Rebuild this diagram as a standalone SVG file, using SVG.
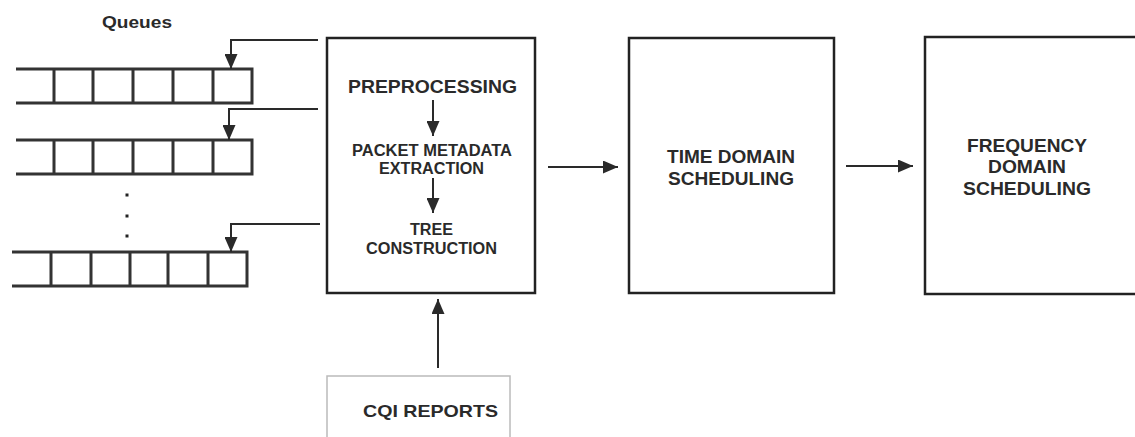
<svg xmlns="http://www.w3.org/2000/svg" width="1135" height="437" viewBox="0 0 1135 437">
<defs>
<style>
.box{fill:#fff;stroke:#222;stroke-width:2.5}
.cqi{fill:#fff;stroke:#bbb;stroke-width:1.5}
.q{fill:none;stroke:#333;stroke-width:3}
.c{fill:none;stroke:#2a2a2a;stroke-width:2}
.t{font-family:"Liberation Sans",Arial,sans-serif;font-weight:bold;fill:#2a2a2a;text-anchor:middle}
</style>
<marker id="ah" markerUnits="userSpaceOnUse" markerWidth="15" markerHeight="13" refX="15" refY="6.5" orient="auto">
<path d="M0,0 L15,6.5 L0,13 z" fill="#2a2a2a"/>
</marker>
</defs>
<rect width="1135" height="437" fill="#fff"/>

<g id="queues">
<text class="t" x="137" y="28" font-size="16.5" textLength="70" lengthAdjust="spacingAndGlyphs">Queues</text>
<g id="queue1">
<path class="q" d="M16,69 H252 M16,103 H252 M54,69 V103 M93,69 V103 M133,69 V103 M173,69 V103 M213,69 V103 M252,67.5 V104.5"/>
</g>
<g id="queue2">
<path class="q" d="M16,140 H252 M16,174 H252 M54,140 V174 M93,140 V174 M133,140 V174 M173,140 V174 M213,140 V174 M252,138.5 V175.5"/>
</g>
<g id="dots" fill="#222">
<rect x="125.5" y="193.5" width="3" height="3"/>
<rect x="125.5" y="214.5" width="3" height="3"/>
<rect x="125.5" y="234.5" width="3" height="3"/>
</g>
<g id="queue3">
<path class="q" d="M12,252 H247 M12,286 H247 M51,252 V286 M91,252 V286 M130,252 V286 M168,252 V286 M208,252 V286 M247,250.5 V287.5"/>
</g>
</g>

<g id="preprocessing">
<rect class="box" x="327" y="38" width="208" height="255"/>
<text class="t" x="432.5" y="93" font-size="18.5" textLength="169" lengthAdjust="spacingAndGlyphs">PREPROCESSING</text>
<text class="t" x="432" y="156" font-size="16" textLength="160" lengthAdjust="spacingAndGlyphs">PACKET METADATA</text>
<text class="t" x="431.5" y="174" font-size="16" textLength="105" lengthAdjust="spacingAndGlyphs">EXTRACTION</text>
<text class="t" x="431.5" y="235" font-size="16" textLength="43" lengthAdjust="spacingAndGlyphs">TREE</text>
<text class="t" x="431.5" y="254" font-size="16" textLength="131" lengthAdjust="spacingAndGlyphs">CONSTRUCTION</text>
</g>

<g id="time-domain">
<rect class="box" x="629" y="38" width="205" height="255"/>
<text class="t" x="731" y="163" font-size="19" textLength="128" lengthAdjust="spacingAndGlyphs">TIME DOMAIN</text>
<text class="t" x="731" y="185" font-size="19" textLength="126" lengthAdjust="spacingAndGlyphs">SCHEDULING</text>
</g>

<g id="frequency-domain">
<rect class="box" x="925" y="37" width="220" height="257"/>
<text class="t" x="1027" y="152" font-size="19" textLength="120" lengthAdjust="spacingAndGlyphs">FREQUENCY</text>
<text class="t" x="1027" y="173" font-size="19" textLength="78" lengthAdjust="spacingAndGlyphs">DOMAIN</text>
<text class="t" x="1027" y="195" font-size="19" textLength="128" lengthAdjust="spacingAndGlyphs">SCHEDULING</text>
</g>

<g id="cqi-reports">
<rect class="cqi" x="327" y="376" width="183" height="80"/>
<text class="t" x="430.5" y="417" font-size="17" textLength="135" lengthAdjust="spacingAndGlyphs">CQI REPORTS</text>
</g>

<g id="connectors">
<path class="c" d="M318,40 H231 V69" marker-end="url(#ah)"/>
<path class="c" d="M318,109 H229 V140" marker-end="url(#ah)"/>
<path class="c" d="M320,224 H231 V252" marker-end="url(#ah)"/>
<path class="c" d="M433,100 V136" marker-end="url(#ah)"/>
<path class="c" d="M433,178 V213" marker-end="url(#ah)"/>
<path class="c" d="M548,167 H618" marker-end="url(#ah)"/>
<path class="c" d="M846,166 H913" marker-end="url(#ah)"/>
<path class="c" d="M438,368 V299" marker-end="url(#ah)"/>
</g>
</svg>
